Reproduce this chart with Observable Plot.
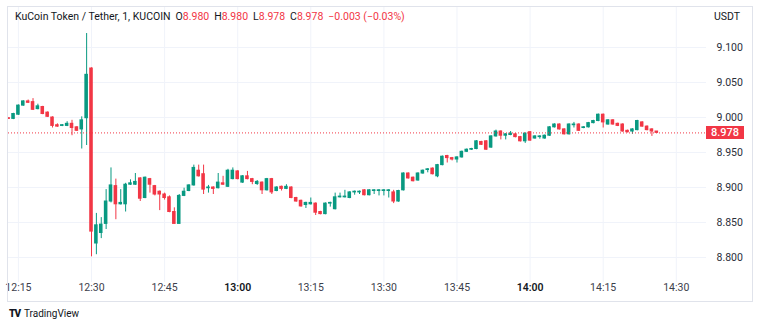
<!DOCTYPE html>
<html><head><meta charset="utf-8">
<script src="https://cdn.jsdelivr.net/npm/d3@7"></script>
<script src="https://cdn.jsdelivr.net/npm/@observablehq/plot@0.6"></script>
<style>
body{margin:0;background:#fff;font-family:Roboto,"Noto Sans",sans-serif;}
#wrap{position:relative;width:760px;height:330px;overflow:hidden;}
#frame{position:absolute;left:7px;top:6px;width:744px;height:294px;border:1px solid #e0e3eb;pointer-events:none;}
#head{position:absolute;left:15px;top:10px;font-size:10.5px;line-height:14px;color:#131722;white-space:pre;}
#head span.g{margin-right:5px;}
#head .v{color:#F23645;}
#unit{position:absolute;left:714px;top:10px;font-size:10.5px;line-height:14px;color:#131722;}
#tag{position:absolute;left:706px;width:38px;height:13px;background:#F23645;color:#fff;font-size:11px;line-height:13px;text-align:center;font-weight:500;}
#foot{position:absolute;left:9px;top:307px;font-size:10px;line-height:14px;color:#131722;white-space:pre;}
#foot b{font-weight:900;letter-spacing:-1px;margin-right:4px;font-size:10px;}
</style></head>
<body>
<div id="wrap">
<div id="chart"></div>
<div id="frame"></div>
<div id="head"></div>
<div id="unit"></div>
<div id="tag"></div>
<div id="foot"><b>TV</b>TradingView</div>
</div>
<script>
// ---- data ----
const title = "KuCoin Token / Tether, 1, KUCOIN";
const currency = "USDT";
const firstMinute = "12:13";
const opens = [8.999,8.998,9.004,9.017,9.023,9.022,9.012,9.015,9.007,9.000,8.989,8.988,8.988,8.991,8.986,8.983,8.999,
 9.070,8.820,8.835,8.848,8.880,8.902,8.876,8.876,8.904,8.904,8.913,8.885,8.912,8.902,8.894,8.890,8.886,8.865,8.848,8.888,
 8.895,8.903,8.924,8.919,8.899,8.900,8.899,8.906,8.901,8.912,8.923,8.907,8.916,8.912,8.905,8.907,8.896,8.912,8.895,8.901,
 8.898,8.900,8.885,8.881,8.875,8.876,8.877,8.865,8.862,8.877,8.869,8.886,8.886,8.885,8.893,8.893,8.896,8.889,8.895,8.895,
 8.895,8.895,8.893,8.880,8.896,8.920,8.914,8.910,8.920,8.925,8.927,8.916,8.932,8.945,8.942,8.940,8.943,8.951,8.954,8.955,
 8.965,8.966,8.957,8.973,8.980,8.974,8.975,8.976,8.972,8.966,8.979,8.970,8.972,8.970,8.974,8.986,8.990,8.983,8.976,8.989,
 8.990,8.985,8.986,8.992,8.995,9.004,8.990,8.996,8.991,8.990,8.981,8.980,8.982,8.993,8.987,8.983,8.980];
const highs = [8.999,9.006,9.018,9.024,9.025,9.027,9.019,9.016,9.008,9.001,8.991,8.990,8.994,8.996,8.987,9.001,9.120,
 9.071,8.863,8.857,8.897,8.928,8.912,8.897,8.906,8.911,8.920,8.914,8.915,8.913,8.903,8.895,8.892,8.888,8.871,8.890,8.899,
 8.904,8.932,8.932,8.932,8.903,8.901,8.920,8.916,8.926,8.928,8.924,8.917,8.923,8.913,8.910,8.908,8.913,8.913,8.901,8.902,
 8.904,8.901,8.886,8.882,8.879,8.885,8.878,8.866,8.878,8.879,8.892,8.892,8.896,8.894,8.895,8.895,8.897,8.897,8.897,8.897,
 8.897,8.897,8.896,8.896,8.921,8.921,8.915,8.921,8.925,8.927,8.928,8.933,8.945,8.946,8.943,8.944,8.952,8.955,8.956,8.967,
 8.966,8.967,8.974,8.982,8.981,8.977,8.980,8.977,8.973,8.978,8.980,8.974,8.974,8.975,8.987,8.991,8.991,8.984,8.991,8.993,
 8.991,8.987,8.993,8.996,9.005,9.005,8.997,8.997,8.992,8.991,8.982,8.984,8.996,8.994,8.988,8.984,8.980];
const lows = [8.998,8.997,9.003,9.016,9.020,9.010,9.011,9.004,9.000,8.985,8.986,8.987,8.987,8.974,8.980,8.955,8.960,
 8.801,8.804,8.827,8.840,8.878,8.854,8.875,8.865,8.903,8.903,8.880,8.884,8.892,8.888,8.867,8.882,8.864,8.848,8.848,8.887,
 8.894,8.902,8.915,8.890,8.892,8.890,8.898,8.903,8.900,8.911,8.911,8.906,8.911,8.904,8.903,8.890,8.895,8.890,8.894,8.895,
 8.897,8.884,8.879,8.872,8.870,8.875,8.860,8.861,8.861,8.872,8.868,8.885,8.885,8.884,8.889,8.890,8.888,8.888,8.890,8.888,
 8.888,8.885,8.877,8.879,8.895,8.912,8.908,8.909,8.919,8.921,8.918,8.914,8.931,8.935,8.938,8.935,8.942,8.950,8.953,8.954,
 8.960,8.953,8.956,8.972,8.968,8.968,8.974,8.971,8.965,8.963,8.966,8.969,8.969,8.969,8.973,8.985,8.982,8.975,8.975,8.985,
 8.980,8.984,8.985,8.991,8.994,8.985,8.989,8.989,8.987,8.979,8.978,8.976,8.981,8.986,8.981,8.973,8.978];
const closes = [8.998,9.005,9.017,9.023,9.021,9.011,9.016,9.005,9.001,8.988,8.987,8.989,8.991,8.985,8.981,8.996,9.061,
 8.837,8.846,8.847,8.880,8.903,8.876,8.878,8.904,8.906,8.908,8.884,8.914,8.904,8.890,8.890,8.885,8.865,8.848,8.888,8.894,
 8.903,8.928,8.916,8.897,8.900,8.898,8.907,8.904,8.924,8.924,8.912,8.916,8.912,8.908,8.908,8.896,8.912,8.893,8.900,8.898,
 8.901,8.885,8.880,8.873,8.878,8.878,8.864,8.862,8.877,8.878,8.886,8.887,8.887,8.893,8.894,8.894,8.889,8.896,8.896,8.896,
 8.896,8.896,8.880,8.895,8.920,8.913,8.909,8.920,8.924,8.926,8.919,8.932,8.944,8.942,8.940,8.943,8.951,8.954,8.955,8.966,
 8.961,8.954,8.973,8.980,8.974,8.976,8.977,8.972,8.966,8.977,8.967,8.973,8.973,8.974,8.986,8.990,8.983,8.976,8.990,8.990,
 8.981,8.986,8.992,8.995,9.004,8.993,8.996,8.990,8.988,8.980,8.979,8.983,8.995,8.987,8.982,8.980,8.978];
const lastPrice = 8.978;
const changeText = "\u22120.003 (\u22120.03%)";
const priceTicks = [8.800, 8.850, 8.900, 8.950, 9.000, 9.050, 9.100];
const timeTicks = ["12:15","12:30","12:45","13:00","13:15","13:30","13:45","14:00","14:15","14:30"];
const hourTicks = ["13:00","14:00"];

// ---- build ----
const parse = d3.utcParse("%H:%M");
const parseS = d3.utcParse("%H:%M:%S");
const t0 = parse(firstMinute);
const candles = opens.map((o, i) => ({
  t: d3.utcMinute.offset(t0, i), open: o, high: highs[i], low: lows[i], close: closes[i]
}));
const UP = "#089981", DOWN = "#F23645";
const col = d => d.close >= d.open ? UP : DOWN;
const half = 22000; // half body width in ms
const tickDates = timeTicks.map(parse);
const fmtP = d3.format(".3f");

const plot = Plot.plot({
  width: 760, height: 330,
  marginLeft: 8, marginRight: 54, marginTop: 6, marginBottom: 48,
  style: {fontFamily: "Roboto, 'Noto Sans', sans-serif", fontSize: "11px", background: "#fff"},
  x: {type: "utc", domain: [parseS("12:12:58"), parseS("14:36:12")], axis: null},
  y: {domain: [8.7643, 9.1586], axis: null},
  marks: [
    Plot.ruleY(priceTicks, {y: d => d, stroke: "#f0f3fa", strokeWidth: 1}),
    Plot.ruleX(tickDates, {x: d => d, stroke: "#f0f3fa", strokeWidth: 1}),
    Plot.ruleX(candles, {x: "t", y1: "low", y2: "high", stroke: col, strokeWidth: 1, clip: true}),
    Plot.rect(candles, {x1: d => new Date(+d.t - half), x2: d => new Date(+d.t + half),
      y1: "open", y2: "close", fill: col, insetTop: -0.5, insetBottom: -0.5, clip: true}),
    Plot.ruleY([lastPrice], {y: d => d, stroke: "#F23645", strokeWidth: 1, strokeDasharray: "1,2"}),
    Plot.text(priceTicks, {y: d => d, text: d => fmtP(d), frameAnchor: "right", dx: 10, textAnchor: "start", fill: "#2a2e39", fontSize: 10.5}),
    Plot.text(timeTicks.filter(t => !hourTicks.includes(t)), {x: d => parse(d), text: d => d, frameAnchor: "bottom", dy: 8, fill: "#3c404b", fontSize: 10.5}),
    Plot.text(hourTicks, {x: d => parse(d), text: d => d, frameAnchor: "bottom", dy: 8, fill: "#131722", fontSize: 10.5, fontWeight: 600})
  ]
});
document.getElementById("chart").appendChild(plot);

// header
const last = candles[candles.length - 1];
const head = document.getElementById("head");
head.innerHTML =
  `<span class="g">${title}</span>` +
  `<span class="g">O<span class="v">${fmtP(last.open)}</span></span>` +
  `<span class="g">H<span class="v">${fmtP(last.high)}</span></span>` +
  `<span class="g">L<span class="v">${fmtP(last.low)}</span></span>` +
  `<span class="g">C<span class="v">${fmtP(last.close)}</span></span>` +
  `<span class="v">${changeText}</span>`;
document.getElementById("unit").textContent = currency;
const tag = document.getElementById("tag");
tag.textContent = fmtP(lastPrice);
tag.style.top = (plot.scale("y").apply(lastPrice) - 6.5) + "px";
</script>
</body></html>
